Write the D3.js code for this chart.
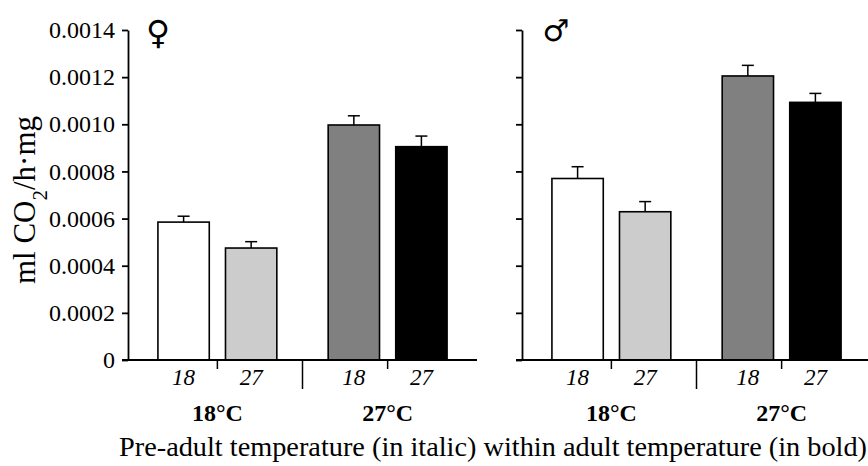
<!DOCTYPE html>
<html>
<head>
<meta charset="utf-8">
<script src="https://cdn.jsdelivr.net/npm/d3@7"></script>
<style>
  body { margin: 0; background: #fff; }
  text { font-family: "Liberation Serif", "Times New Roman", serif; fill: #000; }
</style>
</head>
<body>
<svg id="chart" width="868" height="466"></svg>
<script>
// data
var adultTemps = ["18°C", "27°C"];
var preAdultTemps = ["18", "27"];
var sexSymbols = ["\u2640\uFE0E", "\u2642\uFE0E"];
var femaleMeans = [0.000585, 0.000475, 0.000997, 0.000905];
var femaleErrors = [0.000025, 0.000027, 0.000039, 0.000045];
var maleMeans = [0.000770, 0.000629, 0.001205, 0.001093];
var maleErrors = [0.000050, 0.000043, 0.000045, 0.000038];
var yTicks = [0, 0.0002, 0.0004, 0.0006, 0.0008, 0.0010, 0.0012, 0.0014];
var barFills = ["#ffffff", "#cccccc", "#808080", "#000000"];

var svg = d3.select("#chart"),
  axisLen = 349,
  panelX = [128, 522],
  y = d3.scaleLinear().domain([0, 0.0014]).range([360, 30]),
  outer = d3.scaleBand().domain(adultTemps).range([0, axisLen]).paddingOuter(0.025),
  inner = d3.scaleBand().domain(preAdultTemps).range([0, outer.bandwidth()])
    .paddingInner(0.24).paddingOuter(0.38);

var panels = [
  {means: femaleMeans, errors: femaleErrors, symbol: sexSymbols[0], labels: true,
   symX: 30, symY: 44, symSize: 33},
  {means: maleMeans, errors: maleErrors, symbol: sexSymbols[1], labels: false,
   symX: 34, symY: 41, symSize: 30}
];

panels.forEach(function(p, pi) {
  var g = svg.append("g").attr("transform", "translate(" + panelX[pi] + ",0)");

  var rows = [];
  adultTemps.forEach(function(a, ai) {
    preAdultTemps.forEach(function(t, ti) {
      var k = ai * 2 + ti;
      rows.push({adult: a, pre: t, mean: p.means[k], err: p.errors[k], fill: barFills[k]});
    });
  });

  // bars
  g.selectAll("rect.bar").data(rows).enter().append("rect")
    .attr("class", "bar")
    .attr("x", function(d) { return outer(d.adult) + inner(d.pre); })
    .attr("width", inner.bandwidth())
    .attr("y", function(d) { return y(d.mean); })
    .attr("height", function(d) { return y(0) - y(d.mean); })
    .attr("fill", function(d) { return d.fill; })
    .attr("stroke", "#000")
    .attr("stroke-width", 1.6);

  // error bars (upper only)
  var cx = function(d) { return outer(d.adult) + inner(d.pre) + inner.bandwidth() / 2; };
  g.selectAll("line.err").data(rows).enter().append("line")
    .attr("x1", cx).attr("x2", cx)
    .attr("y1", function(d) { return y(d.mean); })
    .attr("y2", function(d) { return y(d.mean + d.err); })
    .attr("stroke", "#000").attr("stroke-width", 1.5);
  g.selectAll("line.cap").data(rows).enter().append("line")
    .attr("x1", function(d) { return cx(d) - 6; })
    .attr("x2", function(d) { return cx(d) + 6; })
    .attr("y1", function(d) { return y(d.mean + d.err); })
    .attr("y2", function(d) { return y(d.mean + d.err); })
    .attr("stroke", "#000").attr("stroke-width", 1.5);

  // y axis
  var yAxis = d3.axisLeft(y).tickValues(yTicks).tickSize(6).tickSizeOuter(0).tickPadding(7)
    .tickFormat(function(d) { return p.labels ? (d === 0 ? "0" : d3.format(".4f")(d)) : ""; });
  var ya = g.append("g").call(yAxis);
  ya.select(".domain").attr("stroke-width", 1.8);
  ya.selectAll(".tick line").attr("stroke-width", 1.8);
  ya.selectAll(".tick text").style("font-size", "24px").style("font-family", "Liberation Serif");

  // x axis line
  g.append("line").attr("x1", -6).attr("x2", axisLen)
    .attr("y1", y(0)).attr("y2", y(0))
    .attr("stroke", "#000").attr("stroke-width", 1.8);

  // minor ticks between pre-adult bars, major separator between adult groups
  g.selectAll("line.minor").data(adultTemps).enter().append("line")
    .attr("x1", function(d) { return outer(d) + outer.bandwidth() / 2; })
    .attr("x2", function(d) { return outer(d) + outer.bandwidth() / 2; })
    .attr("y1", y(0)).attr("y2", y(0) + 9)
    .attr("stroke", "#000").attr("stroke-width", 1.5);
  g.append("line")
    .attr("x1", outer(adultTemps[1]) - outer.step() * outer.paddingInner() / 2)
    .attr("x2", outer(adultTemps[1]) - outer.step() * outer.paddingInner() / 2)
    .attr("y1", y(0)).attr("y2", y(0) + 29)
    .attr("stroke", "#000").attr("stroke-width", 1.5);

  // category labels
  g.selectAll("text.pre").data(rows).enter().append("text")
    .attr("x", cx).attr("y", 385)
    .attr("text-anchor", "middle")
    .style("font-size", "23px").style("font-style", "italic")
    .text(function(d) { return d.pre; });
  g.selectAll("text.adult").data(adultTemps).enter().append("text")
    .attr("x", function(d) { return outer(d) + outer.bandwidth() / 2; })
    .attr("y", 421)
    .attr("text-anchor", "middle")
    .style("font-size", "24px").style("font-weight", "bold")
    .text(function(d) { return d; });

  // sex symbol
  g.append("text")
    .attr("x", p.symX).attr("y", p.symY)
    .attr("text-anchor", "middle")
    .style("font-family", "DejaVu Sans").style("font-size", p.symSize + "px")
    .text(p.symbol);
});

// axis titles
svg.append("text")
  .attr("transform", "translate(35,200) rotate(-90)")
  .attr("text-anchor", "middle")
  .style("font-size", "31px")
  .html("ml CO<tspan baseline-shift='sub' font-size='21px'>2</tspan>/h·mg");

svg.append("text")
  .attr("x", 493).attr("y", 456)
  .attr("text-anchor", "middle")
  .style("font-size", "28.3px")
  .text("Pre-adult temperature (in italic) within adult temperature (in bold)");
</script>
</body>
</html>
